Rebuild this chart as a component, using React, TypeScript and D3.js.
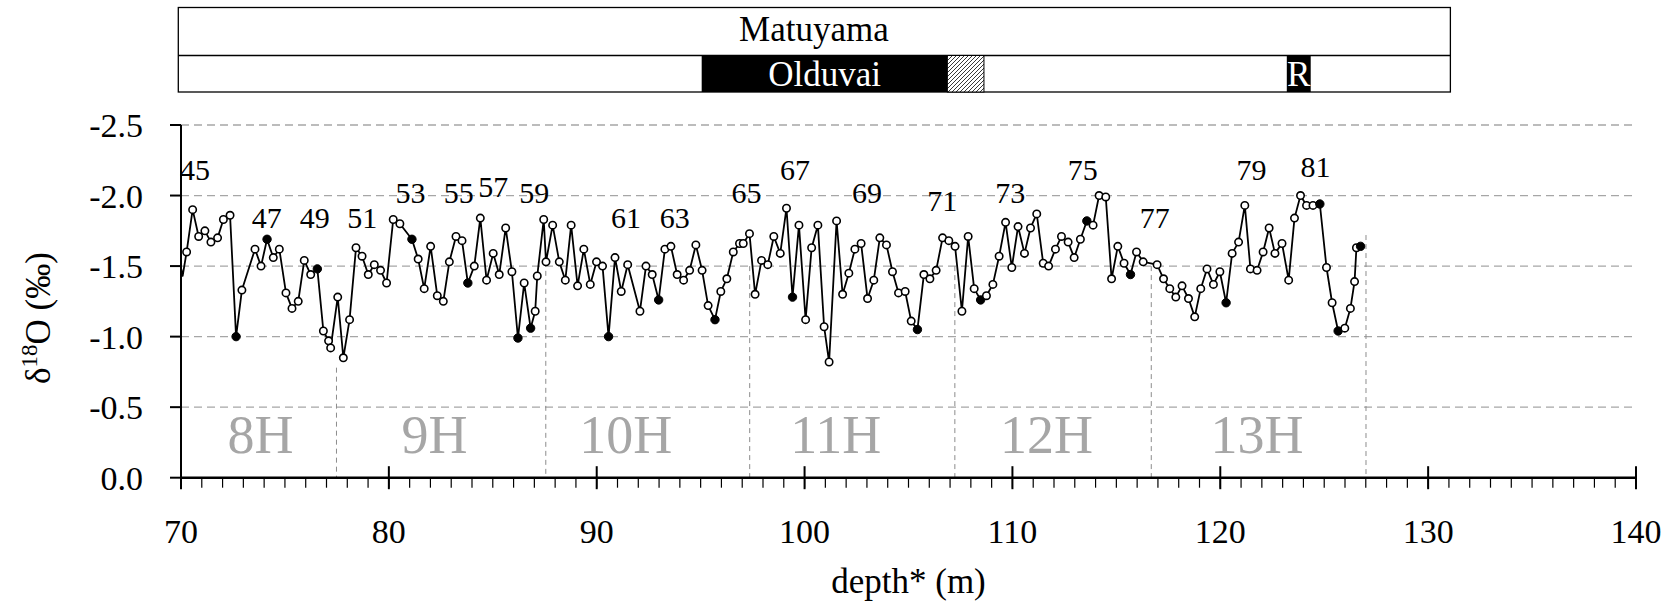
import React from "react";
import * as d3 from "d3";

// ---------- data ----------
const depths = [
  69.95, 70.08, 70.27, 70.56, 70.85, 71.15, 71.44, 71.76, 72.04, 72.36, 72.65, 72.93, 73.56, 73.85, 74.14,
  74.44, 74.73, 75.05, 75.34, 75.64, 75.93, 76.24, 76.56, 76.85, 77.1, 77.2, 77.54, 77.81, 78.11, 78.42,
  78.71, 79.01, 79.3, 79.6, 79.89, 80.21, 80.53, 81.11, 81.41, 81.7, 82.01, 82.33, 82.62, 82.91, 83.23,
  83.52, 83.8, 84.11, 84.4, 84.7, 85.02, 85.31, 85.62, 85.92, 86.21, 86.51, 86.82, 87.04, 87.14, 87.45,
  87.56, 87.88, 88.2, 88.49, 88.77, 89.08, 89.38, 89.69, 89.99, 90.28, 90.57, 90.88, 91.18, 91.49, 92.08,
  92.37, 92.67, 92.98, 93.28, 93.57, 93.87, 94.18, 94.47, 94.77, 95.07, 95.36, 95.69, 95.97, 96.26, 96.57,
  96.87, 97.05, 97.35, 97.62, 97.93, 98.23, 98.52, 98.83, 99.13, 99.42, 99.73, 100.05, 100.34, 100.64, 100.94,
  101.18, 101.54, 101.83, 102.13, 102.42, 102.72, 103.03, 103.33, 103.62, 103.94, 104.23, 104.52, 104.84, 105.13, 105.43,
  105.74, 106.03, 106.33, 106.64, 106.94, 107.24, 107.57, 107.87, 108.16, 108.47, 108.75, 109.06, 109.36, 109.67, 109.97,
  110.27, 110.58, 110.87, 111.17, 111.48, 111.74, 112.07, 112.36, 112.68, 112.97, 113.27, 113.58, 113.88, 114.17, 114.49,
  114.77, 115.07, 115.37, 115.68, 115.97, 116.29, 116.96, 117.27, 117.57, 117.86, 118.16, 118.47, 118.77, 119.06, 119.36,
  119.67, 119.98, 120.28, 120.57, 120.88, 121.18, 121.45, 121.77, 122.06, 122.35, 122.63, 122.97, 123.29, 123.57, 123.86,
  124.15, 124.46, 124.79, 125.11, 125.38, 125.67, 125.99, 126.26, 126.46, 126.55, 126.75,
];
const d18O = [
  -1.52, -1.43, -1.6, -1.9, -1.71, -1.75, -1.67, -1.7, -1.83, -1.86, -1.0, -1.33, -1.62, -1.5, -1.69,
  -1.56, -1.62, -1.31, -1.2, -1.25, -1.54, -1.44, -1.48, -1.04, -0.97, -0.92, -1.28, -0.85, -1.12, -1.63,
  -1.57, -1.44, -1.51, -1.47, -1.38, -1.83, -1.8, -1.69, -1.55, -1.34, -1.64, -1.29, -1.25, -1.53, -1.71,
  -1.68, -1.38, -1.5, -1.84, -1.4, -1.59, -1.44, -1.77, -1.46, -0.99, -1.38, -1.06, -1.18, -1.43, -1.83,
  -1.53, -1.79, -1.53, -1.4, -1.79, -1.36, -1.62, -1.37, -1.53, -1.5, -1.0, -1.56, -1.32, -1.51, -1.18,
  -1.5, -1.44, -1.26, -1.62, -1.64, -1.44, -1.4, -1.47, -1.65, -1.47, -1.22, -1.12, -1.32, -1.41, -1.6,
  -1.66, -1.66, -1.73, -1.3, -1.54, -1.51, -1.71, -1.59, -1.91, -1.28, -1.79, -1.12, -1.63, -1.79, -1.07,
  -0.82, -1.82, -1.3, -1.45, -1.62, -1.66, -1.27, -1.4, -1.7, -1.65, -1.46, -1.31, -1.32, -1.11, -1.05,
  -1.44, -1.41, -1.47, -1.7, -1.68, -1.64, -1.18, -1.71, -1.34, -1.26, -1.29, -1.37, -1.57, -1.81, -1.49,
  -1.78, -1.59, -1.77, -1.87, -1.52, -1.5, -1.62, -1.71, -1.67, -1.56, -1.69, -1.82, -1.79, -2.0, -1.99,
  -1.41, -1.64, -1.52, -1.44, -1.6, -1.53, -1.51, -1.41, -1.34, -1.28, -1.36, -1.27, -1.14, -1.34, -1.48,
  -1.37, -1.46, -1.24, -1.59, -1.67, -1.93, -1.48, -1.47, -1.6, -1.77, -1.59, -1.66, -1.4, -1.84, -2.0,
  -1.93, -1.93, -1.94, -1.49, -1.24, -1.04, -1.06, -1.2, -1.39, -1.63, -1.64,
];
// depths of samples drawn as filled markers
const filledDepths = [
  72.65, 74.14, 76.56, 81.11, 83.8, 86.21, 86.82, 90.57, 92.98, 95.69, 99.42, 105.43, 108.47, 113.58,
  115.68, 120.28, 124.79, 125.67, 126.75,
];
// samples shown as line only (clipped at axis)
const noMarkerDepths = [69.95, 70.08];

// stage annotations
const stageLabels = ["45", "47", "49", "51", "53", "55", "57", "59", "61", "63", "65", "67", "69", "71", "73", "75", "77", "79", "81"];
const stageDepth = [70.67, 74.12, 76.43, 78.72, 81.04, 83.36, 85.02, 87.0, 91.41, 93.75, 97.21, 99.54, 103.0, 106.62, 109.89, 113.38, 116.85, 121.5, 124.58];
const stageValue = [-2.11, -1.773, -1.773, -1.773, -1.946, -1.946, -1.993, -1.946, -1.773, -1.773, -1.946, -2.11, -1.946, -1.887, -1.946, -2.11, -1.773, -2.11, -2.13];

// core sections
const sectionNames = ["8H", "9H", "10H", "11H", "12H", "13H"];
const sectionCenters = [73.83, 82.2, 91.4, 101.5, 111.64, 121.77];
const sectionBoundaries = [77.48, 87.55, 97.36, 107.23, 116.68, 127.01];
const boundaryTops = [-0.78, -1.53, -1.5, -1.5, -1.5, -1.72];

// axes
const xTicks = [70, 80, 90, 100, 110, 120, 130, 140];
const yTicks = [0, -0.5, -1.0, -1.5, -2.0, -2.5];
const gridValues = [-0.5, -1.0, -1.5, -2.0, -2.5];

// magnetostratigraphy (depth units)
const chronBox = [69.87, 131.07];
const olduvai = [95.05, 106.87];
const hatched = [106.87, 108.63];
const reunion = [123.2, 124.35];

const FONT = "'Liberation Serif', 'Times New Roman', serif";

export default function App() {
  const W = 1675;
  const H = 603;
  const x = d3.scaleLinear().domain([70, 140]).range([181, 1636]);
  const y = d3.scaleLinear().domain([0, -2.5]).range([477.7, 125]);

  const pts = depths.map((d, i) => ({ d, v: d18O[i] }));
  const line = d3
    .line<{ d: number; v: number }>()
    .x((p) => x(p.d))
    .y((p) => y(p.v));
  const filledSet = new Set(filledDepths);
  const noMarkSet = new Set(noMarkerDepths);
  const minor = d3.range(70, 141, 1);

  const barTop = 7.5;
  const barMid = 55.5;
  const barBot = 92;

  return (
    <svg
      width={W}
      height={H}
      style={{ position: "absolute", left: 0, top: 0, background: "#fff" }}
      fontFamily={FONT}
    >
      <defs>
        <clipPath id="plotClip">
          <rect x={x(70)} y={100} width={x(140) - x(70)} height={y(0) - 100} />
        </clipPath>
        <pattern id="hatch" width="4" height="4" patternUnits="userSpaceOnUse">
          <rect width="4" height="4" fill="#fff" />
          <path d="M0,4 L4,0 M-1,1 L1,-1 M3,5 L5,3" stroke="#222" strokeWidth="0.9" />
        </pattern>
      </defs>

      {/* magnetostratigraphy bar */}
      <rect x={x(chronBox[0])} y={barTop} width={x(chronBox[1]) - x(chronBox[0])} height={barBot - barTop} fill="#fff" stroke="#000" strokeWidth={1.3} />
      <line x1={x(chronBox[0])} x2={x(chronBox[1])} y1={barMid} y2={barMid} stroke="#000" strokeWidth={1.3} />
      <rect x={x(olduvai[0])} y={barMid} width={x(olduvai[1]) - x(olduvai[0])} height={barBot - barMid} fill="#000" />
      <rect x={x(hatched[0])} y={barMid} width={x(hatched[1]) - x(hatched[0])} height={barBot - barMid} fill="url(#hatch)" stroke="#000" strokeWidth={1} />
      <rect x={x(reunion[0])} y={barMid} width={x(reunion[1]) - x(reunion[0])} height={barBot - barMid} fill="#000" />
      <text x={x(100.45)} y={41} fontSize={35} textAnchor="middle" fill="#000">Matuyama</text>
      <text x={x((olduvai[0] + olduvai[1]) / 2)} y={86} fontSize={35} textAnchor="middle" fill="#fff">Olduvai</text>
      <text x={x((reunion[0] + reunion[1]) / 2)} y={86} fontSize={35} textAnchor="middle" fill="#fff">R</text>

      {/* gridlines */}
      {gridValues.map((v) => (
        <line key={v} x1={x(70)} x2={x(140)} y1={y(v)} y2={y(v)} stroke="#a6a6a6" strokeWidth={1.3} strokeDasharray="8,5" />
      ))}

      {/* section boundaries */}
      {sectionBoundaries.map((b, i) => (
        <line key={b} x1={x(b)} x2={x(b)} y1={y(boundaryTops[i])} y2={y(0)} stroke="#8c8c8c" strokeWidth={1} strokeDasharray="5,4" />
      ))}

      {/* section names */}
      {sectionNames.map((s, i) => (
        <text key={s} x={x(sectionCenters[i])} y={y(-0.177)} fontSize={54} textAnchor="middle" fill="#a6a6a6">{s}</text>
      ))}

      {/* data */}
      <g clipPath="url(#plotClip)">
        <path d={line(pts) || ""} fill="none" stroke="#000" strokeWidth={1.8} strokeLinejoin="round" />
        {pts
          .filter((p) => !noMarkSet.has(p.d))
          .map((p) =>
            filledSet.has(p.d) ? (
              <circle key={p.d} cx={x(p.d)} cy={y(p.v)} r={4.2} fill="#000" stroke="#000" strokeWidth={1} />
            ) : (
              <circle key={p.d} cx={x(p.d)} cy={y(p.v)} r={3.7} fill="#fff" stroke="#000" strokeWidth={1.6} />
            )
          )}
      </g>

      {/* stage labels */}
      {stageLabels.map((s, i) => (
        <text key={s} x={x(stageDepth[i])} y={y(stageValue[i])} fontSize={30} textAnchor="middle" fill="#000">{s}</text>
      ))}

      {/* y axis */}
      <line x1={x(70)} x2={x(70)} y1={y(-2.5)} y2={y(0)} stroke="#000" strokeWidth={2} />
      {yTicks.map((v) => (
        <g key={v}>
          <line x1={x(70) - 11} x2={x(70)} y1={y(v)} y2={y(v)} stroke="#000" strokeWidth={2} />
          <text x={143} y={y(v) + 12} fontSize={34} textAnchor="end" fill="#000">{v.toFixed(1)}</text>
        </g>
      ))}

      {/* x axis */}
      <line x1={x(70)} x2={x(140)} y1={y(0)} y2={y(0)} stroke="#000" strokeWidth={2.5} />
      {minor.map((m) => (
        <line key={m} x1={x(m)} x2={x(m)} y1={y(0)} y2={y(0) + 10} stroke="#000" strokeWidth={1.2} />
      ))}
      {xTicks.map((t) => (
        <g key={t}>
          <line x1={x(t)} x2={x(t)} y1={y(0) - 11.5} y2={y(0) + 11.5} stroke="#000" strokeWidth={2} />
          <text x={x(t)} y={542.7} fontSize={34} textAnchor="middle" fill="#000">{t}</text>
        </g>
      ))}

      {/* axis titles */}
      <text x={x(105)} y={593} fontSize={35} textAnchor="middle" fill="#000">depth* (m)</text>
      <text transform="translate(50,318) rotate(-90)" fontSize={35} textAnchor="middle" fill="#000">
        <tspan>δ</tspan>
        <tspan fontSize={23} dy={-13}>18</tspan>
        <tspan dy={13}>O (‰)</tspan>
      </text>
    </svg>
  );
}
